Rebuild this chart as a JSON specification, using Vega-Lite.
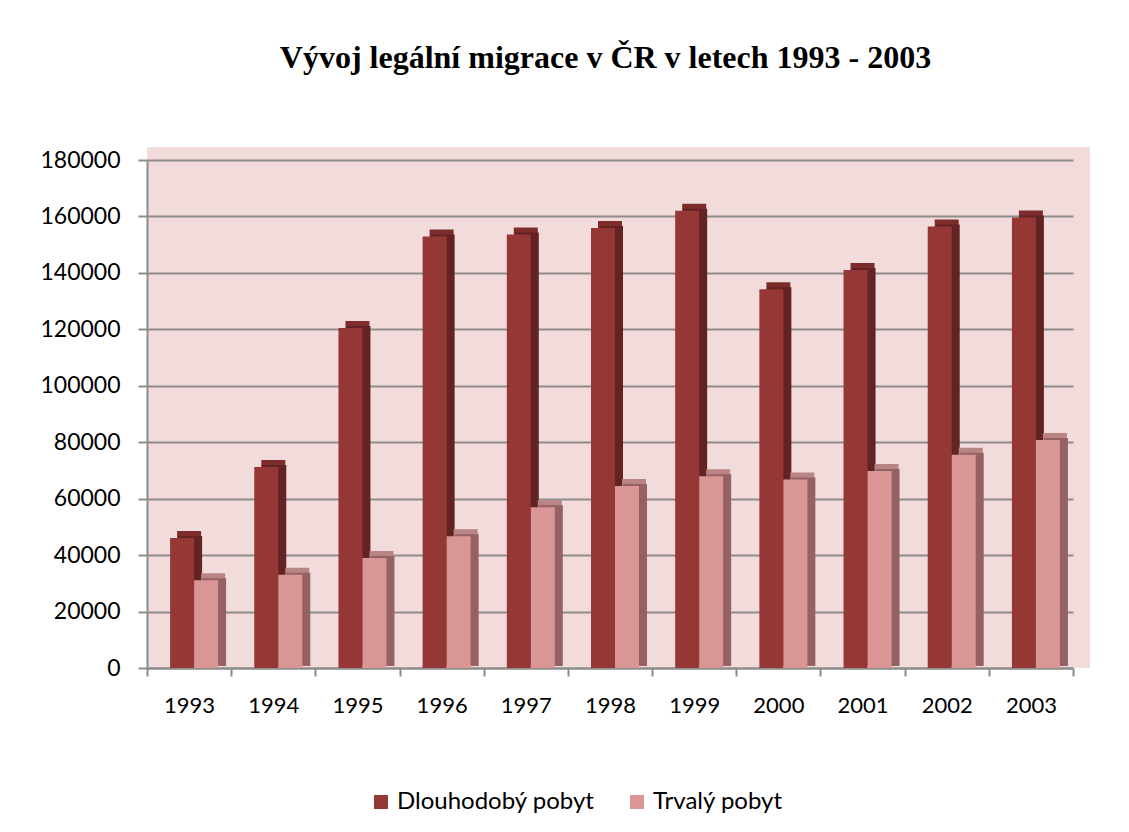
{
  "$schema": "https://vega.github.io/schema/vega-lite/v6.json",
  "autosize": "none",
  "width": 943,
  "height": 521,
  "padding": {"left": 147, "top": 147, "right": 39, "bottom": 164},
  "background": "#ffffff",
  "title": {
    "text": "Vývoj legální migrace v ČR v letech 1993 - 2003",
    "font": "Liberation Serif",
    "fontSize": 32,
    "fontWeight": "bold",
    "color": "#000000",
    "anchor": "middle",
    "offset": 72,
    "dx": -13
  },
  "data": {
    "values": [
      {"year": "1993", "series": "Dlouhodobý pobyt", "value": 46070},
      {"year": "1993", "series": "Trvalý pobyt", "value": 31072},
      {"year": "1994", "series": "Dlouhodobý pobyt", "value": 71230},
      {"year": "1994", "series": "Trvalý pobyt", "value": 33000},
      {"year": "1995", "series": "Dlouhodobý pobyt", "value": 120500},
      {"year": "1995", "series": "Trvalý pobyt", "value": 39000},
      {"year": "1996", "series": "Dlouhodobý pobyt", "value": 152900},
      {"year": "1996", "series": "Trvalý pobyt", "value": 46700},
      {"year": "1997", "series": "Dlouhodobý pobyt", "value": 153600},
      {"year": "1997", "series": "Trvalý pobyt", "value": 57000},
      {"year": "1998", "series": "Dlouhodobý pobyt", "value": 155900},
      {"year": "1998", "series": "Trvalý pobyt", "value": 64500},
      {"year": "1999", "series": "Dlouhodobý pobyt", "value": 162000},
      {"year": "1999", "series": "Trvalý pobyt", "value": 67900},
      {"year": "2000", "series": "Dlouhodobý pobyt", "value": 134200},
      {"year": "2000", "series": "Trvalý pobyt", "value": 66800},
      {"year": "2001", "series": "Dlouhodobý pobyt", "value": 141000},
      {"year": "2001", "series": "Trvalý pobyt", "value": 69800},
      {"year": "2002", "series": "Dlouhodobý pobyt", "value": 156400},
      {"year": "2002", "series": "Trvalý pobyt", "value": 75600},
      {"year": "2003", "series": "Dlouhodobý pobyt", "value": 159600},
      {"year": "2003", "series": "Trvalý pobyt", "value": 80800}
    ]
  },
  "encoding": {
    "x": {
      "field": "year",
      "type": "nominal",
      "title": null,
      "scale": {"range": [0, 926], "paddingInner": 0, "paddingOuter": 0},
      "axis": {
        "labelAngle": 0,
        "tickBand": "extent",
        "tickSize": 8,
        "labelPadding": 19,
        "domainColor": "#8c8c8c",
        "domainWidth": 2,
        "tickColor": "#8c8c8c",
        "tickWidth": 2,
        "labelFont": "Lato",
        "labelFontSize": 22,
        "labelColor": "#000000",
        "grid": false
      }
    },
    "y": {
      "field": "value",
      "type": "quantitative",
      "title": null,
      "scale": {"domain": [0, 180000], "range": [521, 13], "nice": false, "zero": true},
      "axis": {
        "values": [0, 20000, 40000, 60000, 80000, 100000, 120000, 140000, 160000, 180000],
        "format": "d",
        "grid": true,
        "gridColor": "#8c8c8c",
        "gridWidth": 2,
        "domainColor": "#8c8c8c",
        "domainWidth": 2,
        "tickColor": "#8c8c8c",
        "tickWidth": 2,
        "tickSize": 9,
        "labelPadding": 18,
        "labelFont": "Lato",
        "labelFontSize": 23,
        "labelColor": "#000000"
      }
    }
  },
  "layer": [
    {
      "transform": [{"filter": "datum.series === 'Dlouhodobý pobyt'"}],
      "mark": {"type": "bar", "width": {"band": 0.285}, "xOffset": 0, "yOffset": -7, "color": "#7b2c2b"}
    },
    {
      "transform": [{"filter": "datum.series === 'Dlouhodobý pobyt'"}],
      "mark": {"type": "bar", "width": {"band": 0.285}, "xOffset": 1, "yOffset": -2, "color": "#632322"}
    },
    {
      "transform": [{"filter": "datum.series === 'Dlouhodobý pobyt'"}],
      "mark": {"type": "bar", "width": {"band": 0.285}, "xOffset": -7},
      "encoding": {
        "color": {
          "field": "series",
          "type": "nominal",
          "scale": {"domain": ["Dlouhodobý pobyt", "Trvalý pobyt"], "range": ["#953735", "#d99694"]},
          "legend": {
            "orient": "none",
            "legendX": 222,
            "legendY": 643,
            "direction": "horizontal",
            "title": null,
            "symbolType": "square",
            "symbolSize": 196,
            "symbolStrokeWidth": 0,
            "labelFont": "Lato",
            "labelFontSize": 24,
            "labelColor": "#000000",
            "labelLimit": 400,
            "columnPadding": 30
          }
        }
      }
    },
    {
      "transform": [{"filter": "datum.series === 'Trvalý pobyt'"}],
      "mark": {"type": "bar", "width": {"band": 0.285}, "xOffset": 24, "yOffset": -7, "color": "#b88584"}
    },
    {
      "transform": [{"filter": "datum.series === 'Trvalý pobyt'"}],
      "mark": {"type": "bar", "width": {"band": 0.285}, "xOffset": 25, "yOffset": -2, "color": "#956162"}
    },
    {
      "transform": [{"filter": "datum.series === 'Trvalý pobyt'"}],
      "mark": {"type": "bar", "width": {"band": 0.285}, "xOffset": 17},
      "encoding": {
        "color": {
          "field": "series",
          "type": "nominal",
          "scale": {"domain": ["Dlouhodobý pobyt", "Trvalý pobyt"], "range": ["#953735", "#d99694"]}
        }
      }
    }
  ],
  "config": {
    "view": {"fill": "#f2dcdb", "stroke": null}
  }
}
